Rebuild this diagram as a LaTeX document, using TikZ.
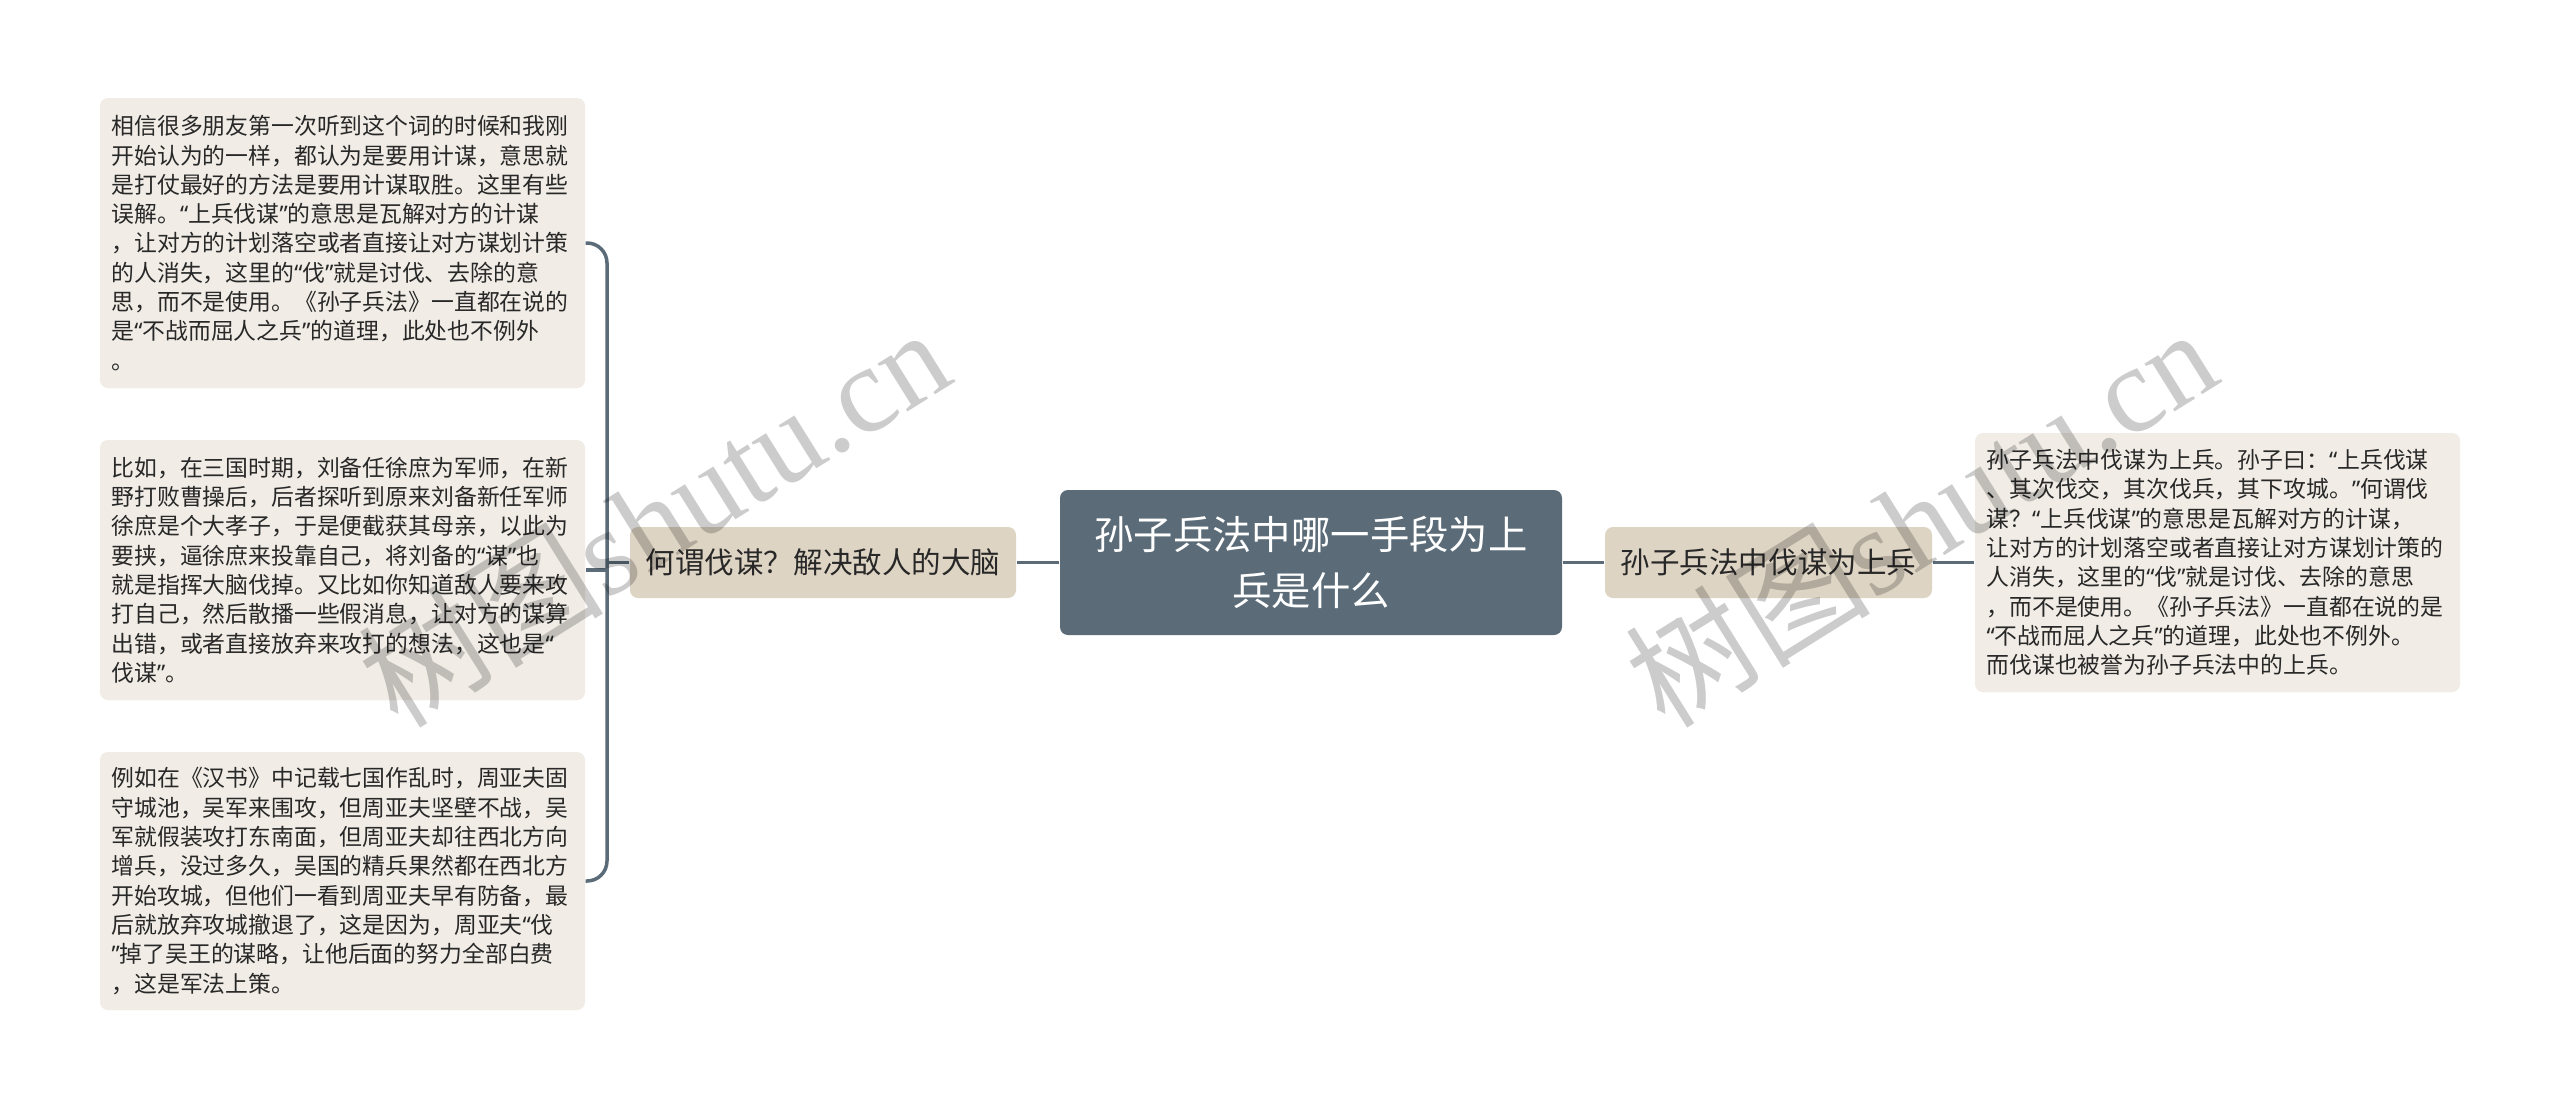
\documentclass[tikz,border=0pt]{standalone}
\usepackage{fontspec}
\usepackage{tikz}
\newfontfamily\cjkfont{Noto Sans CJK SC}
\newfontfamily\latinfont{Noto Sans}
\newfontfamily\markfont{Liberation Serif}
\newcommand\qopen{{\latinfont “}}
\newcommand\qclose{{\latinfont ”}}
\definecolor{slate}{RGB}{91,108,120}
\definecolor{sand}{RGB}{222,212,196}
\definecolor{paper}{RGB}{241,237,230}
\definecolor{ink}{RGB}{40,40,40}

\begin{document}
\begin{tikzpicture}[
	link/.style = {draw = slate, line width = 0.035cm, rounded corners = 0.2cm},
	rootbox/.style = {fill = slate, text = white, rounded corners = 0.08cm, align = center,
		minimum width = 5.02cm, minimum height = 1.45cm, font = \cjkfont\fontsize{11.2}{15.9}\selectfont},
	midbox/.style = {fill = sand, text = ink, rounded corners = 0.08cm,
		minimum height = 0.71cm, inner xsep = 0.12cm, font = \cjkfont\fontsize{8.4}{10}\selectfont},
	leafbox/.style = {fill = paper, text = ink, rounded corners = 0.08cm, align = left,
		text width = 4.62cm, inner xsep = 0.115cm, font = \cjkfont\fontsize{6.5}{8.34}\selectfont},
	wmark/.style = {text = black, text opacity = 0.2, rotate = 32, anchor = center}]
	\useasboundingbox [fill = white] (0,0) rectangle (25.6,-11.11);
	\node [rootbox] (root) at (13.11,-5.625) {孙子兵法中哪一手段为上\\兵是什么};
	\node [midbox, minimum width = 3.86cm] (askmou) at (8.23,-5.625) {何谓伐谋？解决敌人的大脑};
	\node [midbox, minimum width = 3.27cm] (shangbing) at (17.685,-5.625) {孙子兵法中伐谋为上兵};
	\node [leafbox, minimum height = 2.90cm] (leafa) at (3.425,-2.43) {相信很多朋友第一次听到这个词的时候和我刚\\开始认为的一样，都认为是要用计谋，意思就\\是打仗最好的方法是要用计谋取胜。这里有些\\误解。\qopen 上兵伐谋\qclose 的意思是瓦解对方的计谋\\，让对方的计划落空或者直接让对方谋划计策\\的人消失，这里的\qopen 伐\qclose 就是讨伐、去除的意\\思，而不是使用。《孙子兵法》一直都在说的\\是\qopen 不战而屈人之兵\qclose 的道理，此处也不例外\\。};
	\node [leafbox, minimum height = 2.60cm] (leafb) at (3.425,-5.70) {比如，在三国时期，刘备任徐庶为军师，在新\\野打败曹操后，后者探听到原来刘备新任军师\\徐庶是个大孝子，于是便截获其母亲，以此为\\要挟，逼徐庶来投靠自己，将刘备的\qopen 谋\qclose 也\\就是指挥大脑伐掉。又比如你知道敌人要来攻\\打自己，然后散播一些假消息，让对方的谋算\\出错，或者直接放弃来攻打的想法，这也是\qopen\\伐谋\qclose 。};
	\node [leafbox, minimum height = 2.58cm] (leafc) at (3.425,-8.81) {例如在《汉书》中记载七国作乱时，周亚夫固\\守城池，吴军来围攻，但周亚夫坚壁不战，吴\\军就假装攻打东南面，但周亚夫却往西北方向\\增兵，没过多久，吴国的精兵果然都在西北方\\开始攻城，但他们一看到周亚夫早有防备，最\\后就放弃攻城撤退了，这是因为，周亚夫\qopen 伐\\\qclose 掉了吴王的谋略，让他后面的努力全部白费\\，这是军法上策。};
	\node [leafbox, minimum height = 2.59cm] (leafd) at (22.175,-5.625) {孙子兵法中伐谋为上兵。孙子曰：\qopen 上兵伐谋\\、其次伐交，其次伐兵，其下攻城。\qclose 何谓伐\\谋？\qopen 上兵伐谋\qclose 的意思是瓦解对方的计谋，\\让对方的计划落空或者直接让对方谋划计策的\\人消失，这里的\qopen 伐\qclose 就是讨伐、去除的意思\\，而不是使用。《孙子兵法》一直都在说的是\\\qopen 不战而屈人之兵\qclose 的道理，此处也不例外。\\而伐谋也被誉为孙子兵法中的上兵。};
	\coordinate (fork) at (6.07,-5.625);
	\draw [link] (root.west) -- (askmou.east);
	\draw [link] (askmou.west) -- (fork);
	\draw [link] (leafa.east) -| (fork) |- (leafc.east);
	\draw [link] (fork |- leafb.east) -- (leafb.east);
	\draw [link] (root.east) -- (shangbing.west);
	\draw [link] (shangbing.east) -- (leafd.west);
	\node [wmark] (marka) at (6.53,-5.16) {\cjkfont\fontsize{35}{35}\selectfont 树图\markfont shutu.cn};
	\node [wmark] (markb) at (19.20,-5.16) {\cjkfont\fontsize{35}{35}\selectfont 树图\markfont shutu.cn};
\end{tikzpicture}
\end{document}
